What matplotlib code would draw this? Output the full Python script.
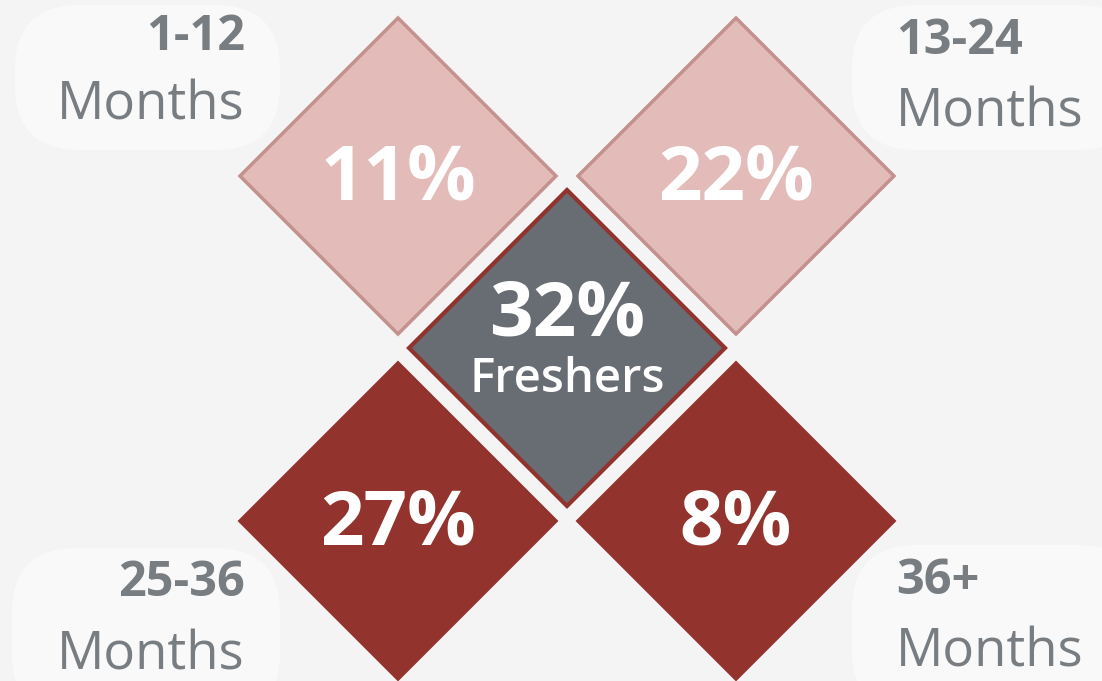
import matplotlib.pyplot as plt
from matplotlib.patches import RegularPolygon, FancyBboxPatch

plt.rcParams['font.family'] = ['Open Sans', 'DejaVu Sans']

# data
ranges = ['1-12', '13-24', '25-36', '36+']
shares = [11, 22, 27, 8]
fresher_share = 32
fresher_label = 'Freshers'

# layout (pixel space, y downwards)
centers = [(398, 176), (736, 176), (398, 521), (736, 521)]
center_mid = (567, 348)
half_diag = 158
fills = ['#e3bcb9', '#e3bcb9', '#93332e', '#93332e']
edges = ['#c4918d', '#c4918d', '#93332e', '#93332e']
label_pos = [(245, 'right', 38, 106), (896, 'left', 42, 113),
             (245, 'right', 583, 656), (896, 'left', 582, 653)]
pills = [(15, 5, 265, 145), (852, 5, 290, 145), (12, 548, 268, 170), (852, 545, 290, 170)]

text_grey = '#787d82'

fig = plt.figure(figsize=(11.02, 6.81), dpi=100)
fig.patch.set_facecolor('#f4f4f4')
ax = fig.add_axes([0, 0, 1, 1])
ax.set_xlim(0, 1102)
ax.set_ylim(681, 0)
ax.axis('off')

for x, y, w, h in pills:
    ax.add_patch(FancyBboxPatch((x + 65, y + 65), w - 130, h - 130,
                                boxstyle='round,pad=65', fc='white', ec='none', alpha=0.5))

for (cx, cy), v, fc, ec in zip(centers, shares, fills, edges):
    ax.add_patch(RegularPolygon((cx, cy), 4, radius=half_diag, orientation=0,
                                fc=fc, ec=ec, lw=2.5))
    ax.text(cx, cy + 4, f'{v}%', color='white', fontsize=55, fontweight='bold',
            ha='center', va='center')

ax.add_patch(RegularPolygon(center_mid, 4, radius=half_diag, orientation=0,
                            fc='#686c73', ec='#93332e', lw=3))
ax.text(center_mid[0], 316, f'{fresher_share}%', color='white', fontsize=55,
        fontweight='bold', ha='center', va='center')
ax.text(center_mid[0], 380, fresher_label, color='white', fontsize=34,
        fontweight='semibold', ha='center', va='center')

for r, (x, ha, y1, y2) in zip(ranges, label_pos):
    ax.text(x, y1, r, color=text_grey, fontsize=35, fontweight='bold', ha=ha, va='center')
    ax.text(x, y2, 'Months', color=text_grey, fontsize=38, ha=ha, va='center')

fig.savefig('out.png', dpi=100, facecolor=fig.get_facecolor())
